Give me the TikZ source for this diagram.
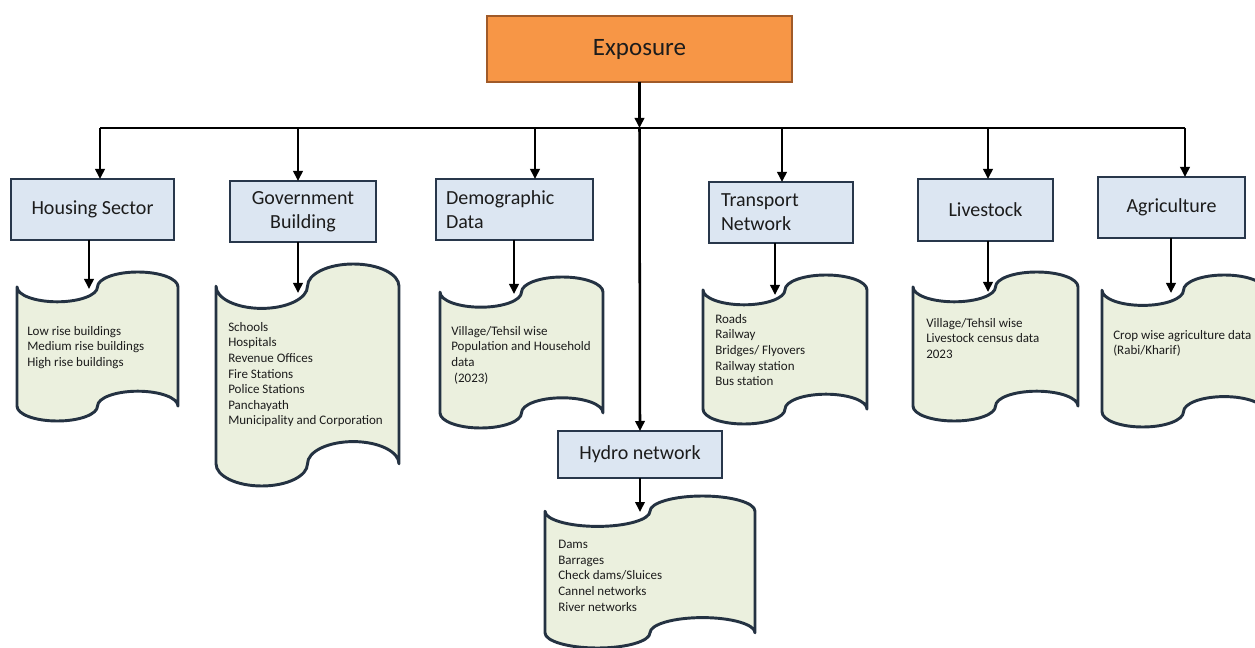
\documentclass[tikz,border=0pt]{standalone}
\usepackage{fontspec}
\setmainfont{Carlito}
\usetikzlibrary{arrows.meta}

\definecolor{expfill}{RGB}{247,150,70}
\definecolor{expline}{RGB}{160,90,40}
\definecolor{boxfill}{RGB}{220,230,242}
\definecolor{boxline}{RGB}{40,55,75}
\definecolor{tapefill}{RGB}{235,240,222}
\definecolor{tapeline}{RGB}{36,50,66}
\definecolor{ink}{RGB}{28,28,28}

\newcommand{\titlefont}{\fontsize{18.75}{22.5}\selectfont}
\newcommand{\catfont}{\fontsize{15}{18}\selectfont}
\newcommand{\listfont}{\fontsize{9.75}{11.7}\selectfont}

\tikzset{
  conn/.style={line width=1.9pt, black},
  arr/.style={conn, -{Triangle[length=7.5pt,width=7pt]}},
  expbox/.style={draw=expline, fill=expfill, line width=1.2pt, inner sep=0pt,
    outer sep=0pt, font=\titlefont, text=ink},
  catbox/.style 2 args={draw=boxline, fill=boxfill, line width=1.8pt, inner sep=0pt,
    outer sep=0pt, align=center, font=\catfont, text=ink,
    minimum width=#1*0.75pt, minimum height=#2*0.75pt},
  tapestyle/.style={draw=tapeline, fill=tapefill, line width=2.2pt, line join=round},
  listtext/.style={anchor=north west, inner sep=0pt, align=left, font=\listfont, text=ink}
}

% punched-tape sheet: #1 name, #2 left, #3 top (crest), #4 right, #5 bottom (trough)
\newcommand{\tape}[5]{%
  \pgfmathsetmacro\tpL{#2}%
  \pgfmathsetmacro\tpT{#3}%
  \pgfmathsetmacro\tpR{#4}%
  \pgfmathsetmacro\tpB{#5}%
  \pgfmathsetmacro\tpq{(\tpR-\tpL)/4}%
  \pgfmathsetmacro\tpa{(\tpB-\tpT)/10}%
  \pgfmathsetmacro\tpk{0.5523*\tpq}%
  \pgfmathsetmacro\tpka{0.5523*\tpa}%
  \draw[tapestyle] (\tpL,\tpT+\tpa)
    .. controls (\tpL,\tpT+\tpa+\tpka) and (\tpL+\tpq-\tpk,\tpT+2*\tpa) .. (\tpL+\tpq,\tpT+2*\tpa)
    .. controls (\tpL+\tpq+\tpk,\tpT+2*\tpa) and (\tpL+2*\tpq,\tpT+\tpa+\tpka) .. (\tpL+2*\tpq,\tpT+\tpa)
    .. controls (\tpL+2*\tpq,\tpT+\tpa-\tpka) and (\tpL+3*\tpq-\tpk,\tpT) .. (\tpL+3*\tpq,\tpT)
    .. controls (\tpL+3*\tpq+\tpk,\tpT) and (\tpR,\tpT+\tpa-\tpka) .. (\tpR,\tpT+\tpa)
    -- (\tpR,\tpB-\tpa)
    .. controls (\tpR,\tpB-\tpa-\tpka) and (\tpL+3*\tpq+\tpk,\tpB-2*\tpa) .. (\tpL+3*\tpq,\tpB-2*\tpa)
    .. controls (\tpL+3*\tpq-\tpk,\tpB-2*\tpa) and (\tpL+2*\tpq,\tpB-\tpa-\tpka) .. (\tpL+2*\tpq,\tpB-\tpa)
    .. controls (\tpL+2*\tpq,\tpB-\tpa+\tpka) and (\tpL+\tpq+\tpk,\tpB) .. (\tpL+\tpq,\tpB)
    .. controls (\tpL+\tpq-\tpk,\tpB) and (\tpL,\tpB-\tpa+\tpka) .. (\tpL,\tpB-\tpa)
    -- cycle;
  \coordinate (#1) at (\tpL+2*\tpq,\tpT+\tpa);
}

\begin{document}
\begin{tikzpicture}[x=0.75pt, y=-0.75pt]
  \useasboundingbox (0,0) rectangle (1255,648);
  \clip (0,0) rectangle (1255,648);

  % data sheets
  \tape{hsdoc}{17}{272}{178}{421}
  \tape{gbdoc}{216}{264}{399}{486}
  \tape{dddoc}{440}{277}{603}{428}
  \tape{tndoc}{703}{275}{867}{424}
  \tape{lsdoc}{913}{272}{1078}{421}
  \tape{agdoc}{1102}{275}{1265}{427}
  \tape{hydoc}{545}{496}{755}{648}

  \node[listtext] (hstxt) at (27,326) {Low rise buildings\\Medium rise buildings\\High rise buildings};
  \node[listtext] (gbtxt) at (228,322) {Schools\\Hospitals\\Revenue Offices\\Fire Stations\\Police Stations\\Panchayath\\Municipality and Corporation};
  \node[listtext] (ddtxt) at (451,326) {Village/Tehsil wise\\Population and Household\\data\\\hspace*{0.22em}(2023)};
  \node[listtext] (tntxt) at (715,314) {Roads\\Railway\\Bridges/ Flyovers\\Railway station\\Bus station};
  \node[listtext] (lstxt) at (926,318) {Village/Tehsil wise\\Livestock census data\\2023};
  \node[listtext] (agtxt) at (1113,330) {Crop wise agriculture data\\(Rabi/Kharif)};
  \node[listtext] (hytxt) at (558,540) {Dams\\Barrages\\Check dams/Sluices\\Cannel networks\\River networks};

  % boxes
  \node[expbox, minimum width=228.75pt, minimum height=49.5pt] (exp) at (639.5,49) {Exposure};
  \node[catbox={163}{61}] (hs) at (92.5,209.5) {Housing Sector};
  \node[catbox={146}{61}] (gb) at (303,211.5) {Government\\Building};
  \node[catbox={157}{61}, text width=102.75pt, align=left] (dd) at (514.5,209.5) {Demographic\\Data};
  \node[catbox={144}{61}, text width=90pt, align=left] (tn) at (781,212.5) {Transport\\Network};
  \node[catbox={135}{62}] (ls) at (985.5,210) {Livestock};
  \node[catbox={147}{61}] (ag) at (1171.5,207.5) {Agriculture};
  \node[catbox={164}{47}] (hy) at (640,454.5) {Hydro network};

  % distribution bus
  \coordinate (b1) at (100,128);
  \coordinate (b2) at (298,128);
  \coordinate (b3) at (535,128);
  \coordinate (b4) at (782,128);
  \coordinate (b5) at (988,128);
  \coordinate (b6) at (1185,128);
  \coordinate (bc) at (exp.south |- b1);

  \draw[conn, line width=2.2pt] (b1) -- (b6);
  \draw[arr] (exp.south) -- (bc);
  \draw[arr] (bc) -- (hy.north);
  \draw[arr] (b1) -- (b1 |- hs.north);
  \draw[arr] (b2) -- (b2 |- gb.north);
  \draw[arr] (b3) -- (b3 |- dd.north);
  \draw[arr] (b4) -- (b4 |- tn.north);
  \draw[arr] (b5) -- (b5 |- ls.north);
  \draw[arr] (b6) -- (b6 |- ag.north);

  % inlets on the sheets
  \coordinate (hsin) at (89,289);
  \coordinate (gbin) at (298,293);
  \coordinate (ddin) at (514,294);
  \coordinate (tnin) at (775,295);
  \coordinate (lsin) at (988,292);
  \coordinate (agin) at (1171,293);
  \coordinate (hyin) at (640,512);

  \draw[arr] (hs.south -| hsin) -- (hsin);
  \draw[arr] (gb.south -| gbin) -- (gbin);
  \draw[arr] (dd.south -| ddin) -- (ddin);
  \draw[arr] (tn.south -| tnin) -- (tnin);
  \draw[arr] (ls.south -| lsin) -- (lsin);
  \draw[arr] (ag.south -| agin) -- (agin);
  \draw[arr] (hy.south -| hyin) -- (hyin);
\end{tikzpicture}
\end{document}
